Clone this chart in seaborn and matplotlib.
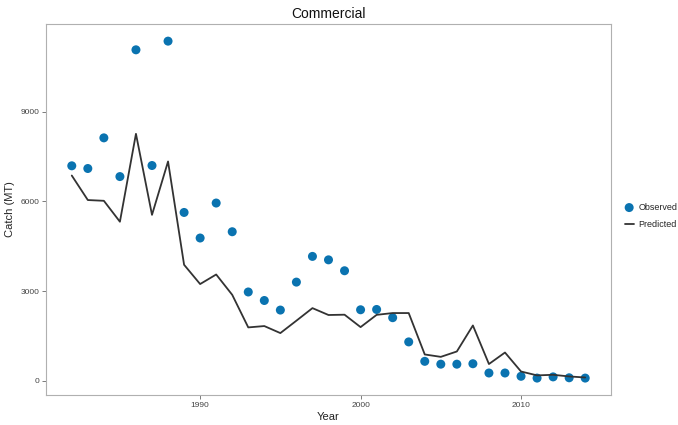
import pandas as pd
import numpy as np
import seaborn as sns
import matplotlib.pyplot as plt

years = list(range(1982, 2015))
observed = [7190, 7100, 8125, 6830, 11070, 7200, 11360, 5630, 4775, 5945,
            4985, 2970, 2685, 2365, 3300, 4160, 4045, 3680, 2375, 2385,
            2110, 1300, 650, 555, 555, 570, 260, 260, 150, 90,
            130, 100, 90]
predicted = [6865, 6045, 6020, 5320, 8260, 5550, 7335, 3880, 3235, 3555,
             2875, 1785, 1830, 1595, 2010, 2430, 2200, 2210, 1795, 2205,
             2265, 2265, 880, 800, 980, 1850, 560, 945, 310, 180,
             200, 145, 110]

df = pd.DataFrame({'Year': years, 'Observed': observed, 'Predicted': predicted})

sns.set_style("white")
plt.rcParams['font.family'] = ['Liberation Sans', 'DejaVu Sans']

fig = plt.figure(figsize=(6.78, 4.25), dpi=100)
ax = fig.add_axes([0.068, 0.071, 0.833, 0.873])

sns.lineplot(data=df, x='Year', y='Predicted', ax=ax, color='#333333',
             linewidth=1.3, label='Predicted')
sns.scatterplot(data=df, x='Year', y='Observed', ax=ax, color='#0a73b0',
                s=42, edgecolor='none', label='Observed')

ax.set_xlim(1980.4, 2015.6)
ax.set_ylim(-470, 11940)
ax.set_xticks([1990, 2000, 2010])
ax.set_yticks([0, 3000, 6000, 9000])
ax.tick_params(axis='both', labelsize=6, labelcolor='#444444', color='#666666',
               length=3, width=0.6, direction='out', bottom=True, left=True, pad=2)
for s in ax.spines.values():
    s.set_color('#b0b0b0')
    s.set_linewidth(0.8)

ax.set_xlabel('Year', fontsize=8, color='#222222', labelpad=2)
ax.set_ylabel('Catch (MT)', fontsize=8, color='#222222', labelpad=4)
ax.set_title('Commercial', fontsize=10, color='#111111', pad=4)

h, l = ax.get_legend_handles_labels()
order = [l.index('Observed'), l.index('Predicted')]
ax.legend([h[i] for i in order], [l[i] for i in order],
          loc='center left', bbox_to_anchor=(1.01, 0.482), frameon=False,
          fontsize=6.5, handlelength=1.0, handletextpad=0.5, labelspacing=0.9)

fig.savefig('out.png', dpi=100)
